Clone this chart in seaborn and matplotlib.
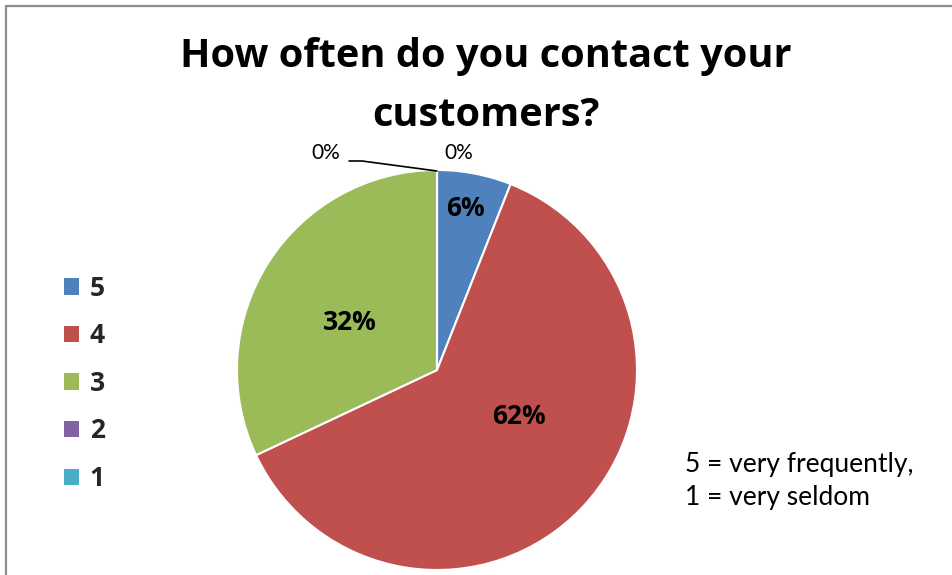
import matplotlib
matplotlib.use("Agg")
import matplotlib.pyplot as plt
from matplotlib.lines import Line2D
from matplotlib.patches import Patch
import seaborn as sns

# Survey answers: 5 = very frequently ... 1 = very seldom
categories = ["5", "4", "3", "2", "1"]
shares = [6, 62, 32, 0, 0]
colors = ["#4F81BD", "#C0504D", "#9BBB59", "#8064A2", "#4BACC6"]
title_lines = ["How often do you contact your", "customers?"]
note = "5 = very frequently,\n1 = very seldom"

sns.set_theme(style="white")
plt.rcParams["font.family"] = ["Open Sans", "DejaVu Sans"]
BOLD = ["Open Sans", "DejaVu Sans"]
REG = ["Lato", "DejaVu Sans"]

W, H = 952, 575
fig = plt.figure(figsize=(W / 100, H / 100), dpi=100)
fig.patch.set_facecolor("white")

# chart frame (left and top edges visible)
fig.add_artist(Line2D([6 / W, 6 / W], [0, 1 - 6 / H], color="#8c8c8c", lw=1.6))
fig.add_artist(Line2D([6 / W, 1], [1 - 6 / H, 1 - 6 / H], color="#8c8c8c", lw=1.6))

# pie axes: centre (437, 370) px, radius 200 px
cx, cy, r = 437, 370, 200
ax = fig.add_axes([(cx - r) / W, (H - cy - r) / H, 2 * r / W, 2 * r / H])
wedges, _ = ax.pie(shares, colors=colors, startangle=90, counterclock=False,
                   wedgeprops=dict(edgecolor="white", linewidth=1.5))
ax.set_xlim(-1, 1)
ax.set_ylim(-1, 1)
ax.set_aspect("auto")
ax.axis("off")
for w in wedges:
    w.set_clip_on(False)

# value labels (placement in pie coordinates)
label_pos = [(0.14, 0.805), (0.41, -0.23), (-0.435, 0.235), (0.11, 1.085), (-0.555, 1.085)]
for val, (lx, ly) in zip(shares, label_pos):
    if val > 0:
        ax.text(lx, ly, f"{val}%", ha="center", va="center", fontsize=19,
                fontweight="bold", family=BOLD, color="black", clip_on=False)
    else:
        ax.text(lx, ly, f"{val}%", ha="center", va="center", fontsize=15,
                family=REG, color="black", clip_on=False)
# leader line for the hidden zero slice
ax.plot([-0.44, -0.375, 0.0], [1.045, 1.045, 0.995], color="black", lw=1.2,
        clip_on=False)

for i, line in enumerate(title_lines):
    fig.text(486 / W, 1 - (57 + 58 * i) / H, line, ha="center", va="center",
             fontsize=28.6, fontweight="bold", family=BOLD, color="black")

handles = [Patch(facecolor=c, edgecolor="none") for c in colors]
leg = fig.legend(handles, categories, loc="upper left",
                 bbox_to_anchor=(40 / W, 1 - 251 / H), frameon=False,
                 prop=dict(size=19, weight="bold", family=BOLD),
                 handlelength=0.58, handleheight=0.58, handletextpad=0.4,
                 labelspacing=0.78)

fig.text(685 / W, 1 - 481 / H, note, ha="left", va="center", fontsize=19,
         family=REG, color="black", linespacing=1.38)

fig.savefig("out.png", dpi=100, facecolor="white")
